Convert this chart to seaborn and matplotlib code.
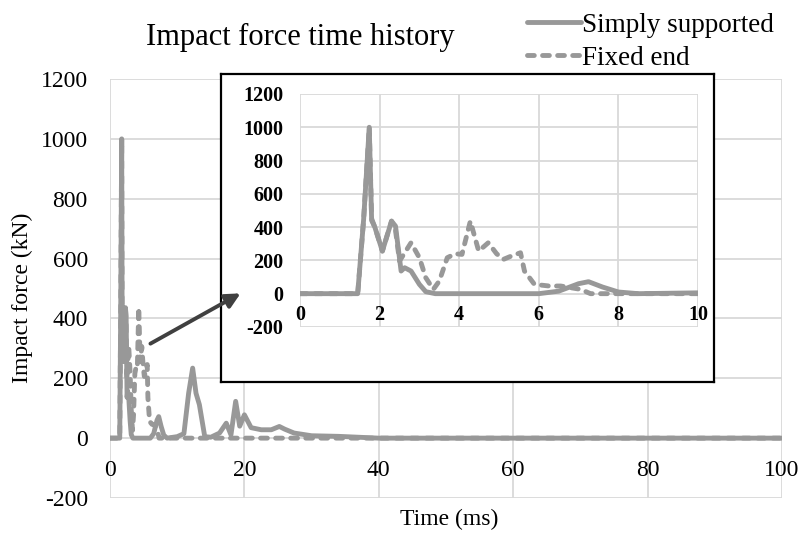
import numpy as np
import pandas as pd
import seaborn as sns
import matplotlib.pyplot as plt

# impact force data (time in ms, force in kN)
ss_time = [0, 1.45, 1.6, 1.74, 1.8, 1.88, 2.07, 2.3, 2.4, 2.54, 2.63, 2.79, 3.0, 3.16, 3.4,
           6.0, 6.5, 7.0, 7.25, 7.6, 8.0, 8.5, 10.0, 11.0, 11.7, 12.3, 12.8, 13.3, 14.1, 15.0,
           16.3, 17.3, 18.0, 18.7, 19.3, 20.0, 21.0, 22.5, 24.0, 25.2, 26.0, 27.4, 30.0, 34.0,
           38.0, 40.0, 100.0]
ss_force = [0, 0, 450, 1000, 440, 400, 256, 436, 406, 136, 156, 136, 56, 12, 0,
            0, 15, 60, 72, 40, 10, 0, 5, 15, 150, 234, 150, 112, 5, 3,
            17, 50, 11, 123, 40, 78, 35, 28, 28, 39, 30, 17, 8, 6,
            2, 0, 0]

fe_time = [0, 1.45, 1.6, 1.74, 1.8, 1.88, 2.07, 2.3, 2.4, 2.5, 2.79, 3.0, 3.16, 3.35, 3.5,
           3.7, 3.9, 4.07, 4.28, 4.49, 4.73, 4.94, 5.11, 5.31, 5.54, 5.64, 5.89, 6.26, 6.55,
           6.8, 7.05, 7.3, 100.0]
fe_force = [0, 0, 450, 1000, 450, 400, 256, 436, 380, 196, 306, 216, 96, 26, 76,
            216, 240, 236, 436, 256, 306, 240, 206, 226, 246, 136, 56, 46, 46,
            36, 26, 0, 0]

labels = ["Simply supported", "Fixed end"]
main_xticks = [0, 20, 40, 60, 80, 100]
inset_xticks = [0, 2, 4, 6, 8, 10]
yticks = [-200, 0, 200, 400, 600, 800, 1000, 1200]

ss = pd.DataFrame({"t": ss_time, "F": ss_force})
fe = pd.DataFrame({"t": fe_time, "F": fe_force})

sns.set_theme(style="white")
plt.rcParams['font.family'] = ['Liberation Serif', 'DejaVu Serif']
plt.rcParams['axes.unicode_minus'] = False
plt.rcParams['text.color'] = 'black'
plt.rcParams['xtick.color'] = 'black'
plt.rcParams['ytick.color'] = 'black'

line_col = "#989898"
grid_col = "#d9d9d9"
lw = 3.5
dash = (0, (1.4, 1.7))

fig = plt.figure(figsize=(8, 5.36), dpi=100)

# main chart
ax = fig.add_axes([0.1375, 0.0709, 0.84, 0.7817])
sns.lineplot(data=ss, x="t", y="F", ax=ax, color=line_col, lw=lw, label=labels[0],
             estimator=None, sort=False)
sns.lineplot(data=fe, x="t", y="F", ax=ax, color=line_col, lw=lw, linestyle=dash,
             dash_capstyle='round', label=labels[1], estimator=None, sort=False)
ax.set_xlim(0, 100)
ax.set_ylim(-200, 1200)
ax.set_xticks(main_xticks)
ax.set_yticks(yticks)
ax.set_xlabel("")
ax.set_ylabel("")
ax.grid(True, color=grid_col, lw=1.3)
for s in ax.spines.values():
    s.set_visible(False)
ax.spines['bottom'].set_position(('data', 0))
ax.tick_params(axis='x', length=0, pad=16, labelsize=17)
ax.tick_params(axis='y', length=0, pad=16, labelsize=17)
handles, lbls = ax.get_legend_handles_labels()
ax.get_legend().remove()

# framed box for the zoomed view
box = fig.add_axes([0.2763, 0.2873, 0.6163, 0.5746])
box.set_facecolor("white")
box.set_xticks([])
box.set_yticks([])
for s in box.spines.values():
    s.set_color("black")
    s.set_linewidth(1.6)

# zoom of first 10 ms
axi = fig.add_axes([0.375, 0.390, 0.4975, 0.4347])
axi.set_facecolor("none")
sns.lineplot(data=ss, x="t", y="F", ax=axi, color=line_col, lw=lw, estimator=None, sort=False)
sns.lineplot(data=fe, x="t", y="F", ax=axi, color=line_col, lw=lw, linestyle=dash,
             dash_capstyle='round', estimator=None, sort=False)
axi.set_xlim(0, 10)
axi.set_ylim(-200, 1200)
axi.set_xticks(inset_xticks)
axi.set_yticks(yticks)
axi.set_xlabel("")
axi.set_ylabel("")
axi.grid(True, color=grid_col, lw=1.3)
for s in axi.spines.values():
    s.set_visible(False)
axi.spines['bottom'].set_position(('data', 0))
axi.tick_params(axis='x', length=0, pad=8, labelsize=14.5)
axi.tick_params(axis='y', length=0, pad=12, labelsize=14.5)
for t in axi.get_xticklabels() + axi.get_yticklabels():
    t.set_fontweight('bold')

# arrow pointing into the zoom
axi.annotate("", xy=(243 / 800, 1 - 292 / 536), xytext=(148 / 800, 1 - 345 / 536),
             xycoords='figure fraction', textcoords='figure fraction',
             arrowprops=dict(arrowstyle='-|>', color='#404040', lw=2.8, mutation_scale=22),
             annotation_clip=False)

fig.text(300 / 800, 1 - 37 / 536, "Impact force time history", ha='center', va='center', fontsize=22)
fig.text(22 / 800, 1 - 298 / 536, "Impact force (kN)", rotation=90, ha='center', va='center', fontsize=17)
fig.text(449 / 800, 1 - 519 / 536, "Time (ms)", ha='center', va='center', fontsize=17)

fig.legend(handles, lbls, loc='upper left', bbox_to_anchor=(508 / 800, 1.012), frameon=False,
           fontsize=19.5, handlelength=2.0, handletextpad=0.05, labelspacing=0.3, borderpad=0.2)

fig.savefig("out.png", dpi=100)
